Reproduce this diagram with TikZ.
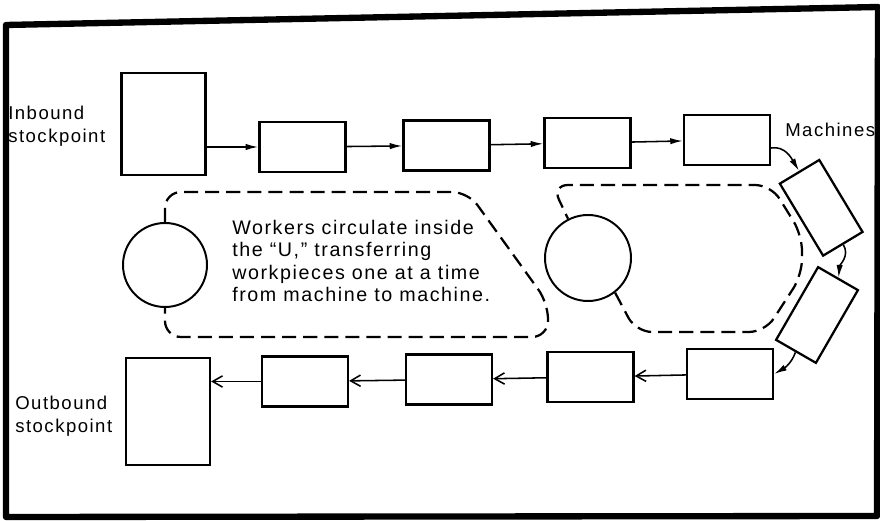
\documentclass[tikz,border=0pt]{standalone}
\usepackage{fontspec}
\setmainfont{Liberation Sans}[LetterSpace=8]
\usetikzlibrary{arrows.meta}

\begin{document}
\begin{tikzpicture}[>={Latex[length=9pt,width=4.5pt]},
    box/.style={draw, line width=1.6pt, minimum width=2.15cm, minimum height=1.25cm, inner sep=0pt},
    tilted/.style={box, minimum width=2.1cm, minimum height=1.15cm},
    stock/.style={draw, line width=1.6pt, minimum width=2.1cm, inner sep=0pt},
    worker/.style={draw, circle, line width=1.4pt, inner sep=0pt},
    lbl/.style={font=\fontsize{13.2}{16.5}\selectfont, align=left, inner sep=0pt},
    flow/.style={line width=1.1pt, ->},
    retflow/.style={line width=1.1pt, -{Straight Barb[length=7pt,width=8pt]}},
    ushape/.style={line width=1.6pt, dash pattern=on 10pt off 5pt, rounded corners=0.4cm}]
    \useasboundingbox (0,0) rectangle (22,13.025);
    % Frame
    \draw[line width=4.5pt, line join=round] (0.15,12.4) -- (21.95,12.85) -- (21.925,0.125) -- (0.15,0.1) -- cycle;
    % Stockpoints
    \node[stock, minimum height=2.55cm] (inbound) at (4.09,9.925) {};
    \node[stock, minimum height=2.675cm] (out) at (4.2,2.74) {};
    % Machines
    \node[box] (m1) at (7.5625,9.35) {};
    \node[box] (m2) at (11.1625,9.3875) {};
    \node[box] (m3) at (14.6875,9.45) {};
    \node[box] (m4) at (18.175,9.525) {};
    \node[tilted, rotate=-59] (r1) at (20.53,7.83) {};
    \node[tilted, rotate=60] (r2) at (20.425,5.15) {};
    \node[box] (b5) at (18.25,3.675) {};
    \node[box] (b4) at (14.7625,3.6) {};
    \node[box] (b3) at (11.225,3.5375) {};
    \node[box] (b2) at (7.625,3.4875) {};
    % Workers
    \node[worker, minimum size=2.1cm] (wl) at (4.125,6.4) {};
    \node[worker, minimum size=2.15cm] (wr) at (14.7,6.575) {};
    % Flow of workpieces
    \draw[flow] (inbound.east |- m1) -- (m1);
    \draw[flow] (m1) -- (m2);
    \draw[flow] (m2) -- (m3);
    \draw[flow] (m3) -- (m4);
    \draw[flow] ([yshift=-0.2cm]m4.east) to[out=10, in=121] (r1.west);
    \draw[flow] (r1.east) to[out=-60, in=85] (r2.east);
    \draw[flow] (r2.west) to[out=-110, in=30] (b5.east);
    \draw[retflow] (b5) -- (b4);
    \draw[retflow] (b4) -- (b3);
    \draw[retflow] (b3) -- (b2);
    \draw[retflow] (b2) -- (b2 -| out.east);
    % Walking paths
    \draw[ushape] (wl.north) -- (4.125,8.225) -- (11.7,8.225) -- (13.7,5.45) -- (13.7,4.6) -- (4.125,4.6) -- (wl.south);
    \draw[ushape] (wr.-52) -- (15.9,4.725) -- (19.125,4.725) -- (20.05,6.15) -- (20.05,7.15) -- (19.275,8.4) -- (13.8,8.4) -- (wr.117);
    % Labels
    \node[lbl, anchor=west] (inlbl) at (0.2,9.875) {Inbound\\stockpoint};
    \node[lbl, anchor=west] (outlbl) at (0.375,2.625) {Outbound\\stockpoint};
    \node[lbl, anchor=base west] (mlbl) at (19.625,9.6) {Machines};
    \node[lbl, anchor=west, font=\fontsize{14}{16}\selectfont] (note) at (5.8,6.5) {Workers circulate inside\\the “U,” transferring\\workpieces one at a time\\from machine to machine.};
\end{tikzpicture}
\end{document}
